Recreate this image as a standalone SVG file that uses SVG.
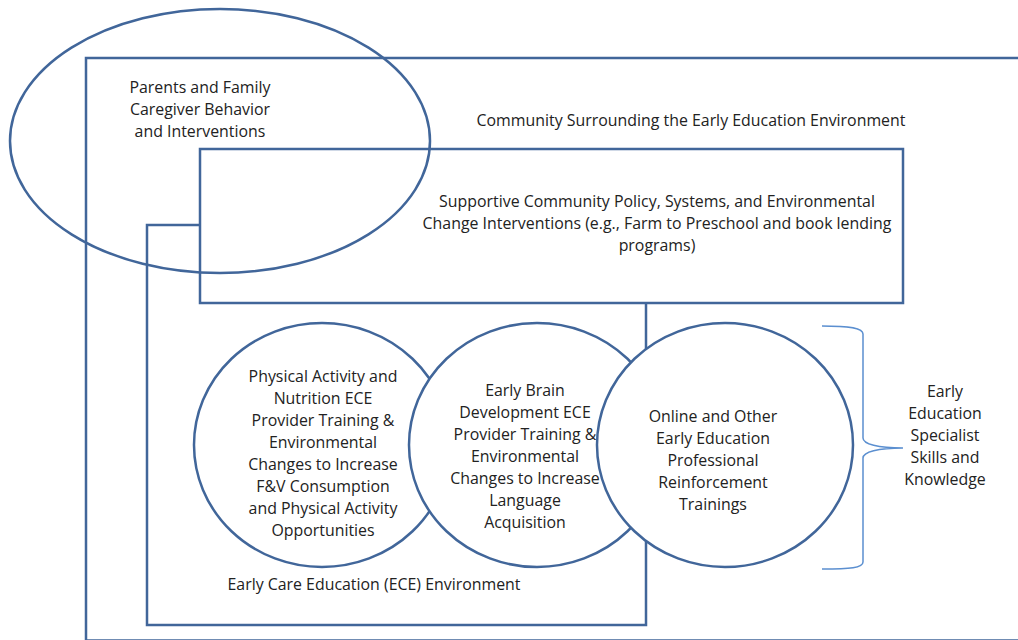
<svg xmlns="http://www.w3.org/2000/svg" width="1018" height="640" viewBox="0 0 1018 640">
<style>
.ln{fill:none;stroke:#41669a;stroke-width:2.5}
.wf{fill:#fff;stroke:#41669a;stroke-width:2.5}
text{font-family:"Open Sans",Lato,sans-serif;font-size:15.9px;fill:#222;text-anchor:middle}
</style>
<rect width="1018" height="640" fill="#fff"/>
<g id="community">
<rect class="ln" x="86" y="58" width="960" height="582.5"/>
<text x="691" y="126">Community Surrounding the Early Education Environment</text>
</g>
<g id="ece">
<rect class="ln" x="147" y="225" width="499" height="400"/>
<text x="374" y="590">Early Care Education (ECE) Environment</text>
</g>
<g id="supportive">
<rect class="wf" x="200" y="149" width="703" height="154"/>
<text x="657" y="207">Supportive Community Policy, Systems, and Environmental</text>
<text x="657" y="229">Change Interventions (e.g., Farm to Preschool and book lending</text>
<text x="657" y="251">programs)</text>
</g>
<g id="parents">
<ellipse class="ln" cx="220" cy="141" rx="210" ry="132"/>
<text x="200" y="93">Parents and Family</text>
<text x="200" y="115">Caregiver Behavior</text>
<text x="200" y="137">and Interventions</text>
</g>
<g id="physical">
<ellipse class="wf" cx="322" cy="445" rx="128" ry="122"/>
<text x="323" y="382">Physical Activity and</text>
<text x="323" y="404">Nutrition ECE</text>
<text x="323" y="426">Provider Training &amp;</text>
<text x="323" y="448">Environmental</text>
<text x="323" y="470">Changes to Increase</text>
<text x="323" y="492">F&amp;V Consumption</text>
<text x="323" y="514">and Physical Activity</text>
<text x="323" y="536">Opportunities</text>
</g>
<g id="brain">
<ellipse class="wf" cx="537" cy="445" rx="128" ry="122"/>
<text x="525" y="396">Early Brain</text>
<text x="525" y="418">Development ECE</text>
<text x="525" y="440">Provider Training &amp;</text>
<text x="525" y="462">Environmental</text>
<text x="525" y="484">Changes to Increase</text>
<text x="525" y="506">Language</text>
<text x="525" y="528">Acquisition</text>
</g>
<g id="online">
<ellipse class="wf" cx="725" cy="445" rx="128" ry="122"/>
<text x="713" y="422">Online and Other</text>
<text x="713" y="444">Early Education</text>
<text x="713" y="466">Professional</text>
<text x="713" y="488">Reinforcement</text>
<text x="713" y="510">Trainings</text>
</g>
<g id="connectors">
<path d="M822,326 C850,326 863,328 863,334 L863,438 C863,444 878,448 903,448 C878,448 863,452 863,458 L863,562 C863,568 850,569 822,569" fill="none" stroke="#5b8fd0" stroke-width="1.5"/>
</g>
<g id="specialist">
<text x="945" y="397">Early</text>
<text x="945" y="419">Education</text>
<text x="945" y="441">Specialist</text>
<text x="945" y="463">Skills and</text>
<text x="945" y="485">Knowledge</text>
</g>
</svg>
